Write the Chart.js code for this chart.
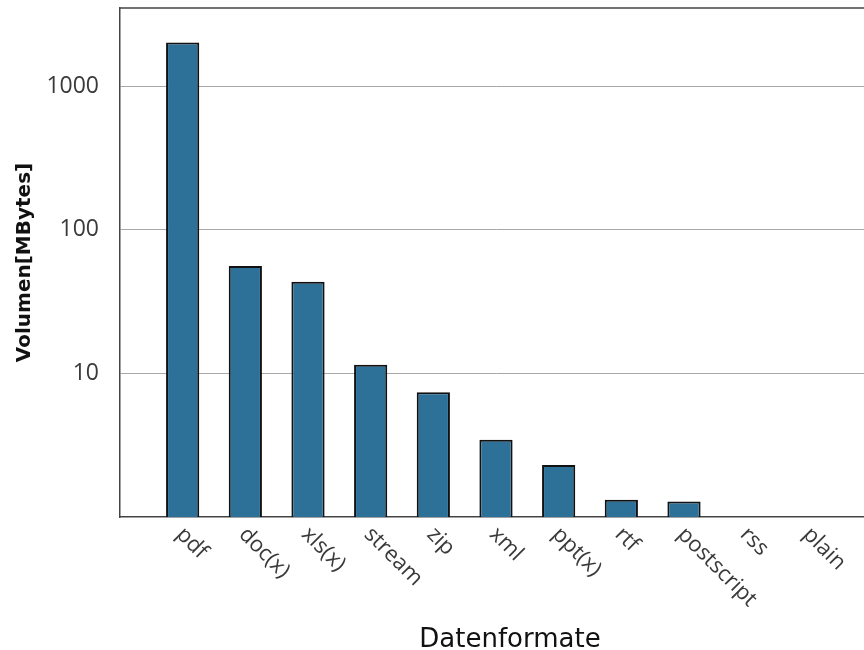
<!DOCTYPE html>
<html>
<head>
<meta charset="utf-8">
<script src="https://cdn.jsdelivr.net/npm/chart.js@4/dist/chart.umd.min.js"></script>
<style>
  html, body { margin: 0; padding: 0; overflow: hidden; background: #fff; }
  canvas { display: block; }
</style>
</head>
<body>
<canvas id="c" width="872" height="650"></canvas>
<script>
// Data volume per file format (MBytes, log scale)
const formats = ['pdf', 'doc(x)', 'xls(x)', 'stream', 'zip', 'xml', 'ppt(x)', 'rtf', 'postscript', 'rss', 'plain'];
const volumes = [2010, 56, 43.5, 11.5, 7.4, 3.45, 2.3, 1.32, 1.28, 1, 1];
const yTicks = [10, 100, 1000];
const xTitle = 'Datenformate';
const yTitle = 'Volumen[MBytes]';

// one empty slot on each side of the categories
const labels = [''].concat(formats, ['']);
const values = [null].concat(volumes, [null]);

const tickFont = '22px "Open Sans"';
const labelColor = '#3a3a3a';

const customDraw = {
  id: 'customDraw',
  afterDraw(chart) {
    const ctx = chart.ctx;
    const area = chart.chartArea;
    const xs = chart.scales.x;
    ctx.save();
    // top frame line
    ctx.strokeStyle = '#444';
    ctx.lineWidth = 1.5;
    ctx.beginPath();
    ctx.moveTo(area.left, area.top);
    ctx.lineTo(area.right, area.top);
    ctx.stroke();
    // rotated category labels, reading downwards to the right
    ctx.font = tickFont;
    ctx.fillStyle = labelColor;
    ctx.textAlign = 'left';
    ctx.textBaseline = 'middle';
    formats.forEach((name, i) => {
      const x = xs.getPixelForValue(i + 1);
      ctx.save();
      ctx.translate(x - 3, area.bottom + 14);
      ctx.rotate(Math.PI / 4);
      ctx.fillText(name, 0, 0);
      ctx.restore();
    });
    // x axis title
    ctx.font = '26px "DejaVu Sans"';
    ctx.fillStyle = '#111';
    ctx.textAlign = 'center';
    ctx.textBaseline = 'alphabetic';
    ctx.fillText(xTitle, 510, 647);
    ctx.restore();
  }
};

function noEdgePadding(s) {
  s.paddingTop = 0; s.paddingBottom = 0; s.paddingLeft = 0; s.paddingRight = 0;
}

new Chart(document.getElementById('c'), {
  type: 'bar',
  data: {
    labels: labels,
    datasets: [{
      data: values,
      backgroundColor: '#2e7198',
      borderColor: '#111',
      borderWidth: 2,
      categoryPercentage: 1,
      barPercentage: 0.53
    }]
  },
  options: {
    responsive: false,
    animation: false,
    layout: { padding: { top: 8, left: 0, right: 0, bottom: 0 } },
    plugins: { legend: { display: false }, tooltip: { enabled: false } },
    scales: {
      x: {
        type: 'category',
        offset: false,
        grid: { display: false, drawTicks: false },
        border: { color: '#444', width: 1.5 },
        ticks: { display: false },
        afterFit(s) { s.height = 133; noEdgePadding(s); }
      },
      y: {
        type: 'logarithmic',
        min: 1,
        max: 3500,
        afterBuildTicks(s) { s.ticks = yTicks.map(v => ({ value: v })); },
        afterFit(s) { s.width = 120; noEdgePadding(s); },
        grid: { color: '#a8a8a8', lineWidth: 1, drawTicks: false },
        border: { color: '#444', width: 1.5 },
        ticks: {
          padding: 21,
          color: labelColor,
          font: { family: 'Open Sans', size: 23 },
          callback: (v) => String(v)
        },
        title: {
          display: true,
          text: yTitle,
          color: '#111',
          font: { family: 'DejaVu Sans', size: 20, weight: 'bold' },
          padding: { top: 13, bottom: 0 }
        }
      }
    }
  },
  plugins: [customDraw]
});
</script>
</body>
</html>
